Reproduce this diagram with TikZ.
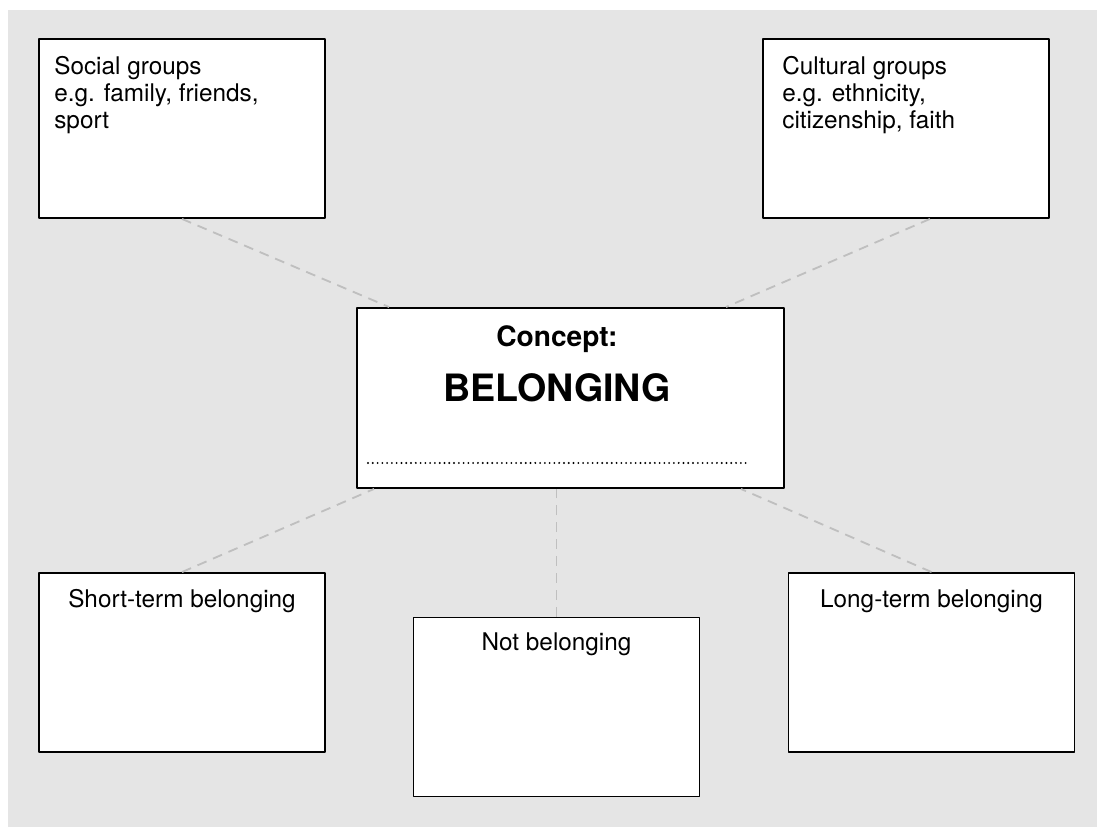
\documentclass[tikz,border=0pt]{standalone}
\usepackage{fontspec}
\setmainfont{TeX Gyre Heros}
\usepackage{tikz}
\usetikzlibrary{calc,positioning}
\tikzset{card/.style={draw,fill=white,line width=1.35pt,minimum width=7.15cm,minimum height=4.475cm,inner sep=0pt},
  cardtxt/.style={inner sep=0pt,align=left,font=\fontsize{17.3}{19.3}\selectfont},
  link/.style={draw=black!25,line width=1.3pt,dash pattern=on 7pt off 5pt}}

\begin{document}
\begin{tikzpicture}[line join=round]
\useasboundingbox (0,0) rectangle (27.425,20.675);
\fill[black!10] (0.2,0) rectangle (27.425,20.425);
% --- outer boxes
\node[card] (social) at (4.55,17.4625) {};
\node[card] (cultural) at (22.65,17.4625) {};
\node[card] (short) at (4.55,4.1125) {};
\node[card] (notb) at (13.9125,3.0) {};
\node[card] (long) at (23.2875,4.1125) {};
% --- centre box
\node[card,minimum width=10.675cm,minimum height=4.5cm] (belong) at (14.2625,10.725) {};
\node[cardtxt,below=0.47cm of belong.north,xshift=-0.34cm,font=\fontsize{20}{22}\selectfont\bfseries] (concept) {Concept:};
\node[cardtxt,below=0.5cm of concept,font=\fontsize{26.8}{29}\selectfont\bfseries] (title) {BELONGING};
\draw[line width=1.5pt,line cap=round,dash pattern=on 0pt off 3.4pt] (9.2,9.1) -- (18.65,9.1);
% --- labels
\node[cardtxt,below right=0.45cm and 0.4cm of social.north west] (socialtxt) {Social groups\\e.g. family, friends,\\sport};
\node[cardtxt,below right=0.45cm and 0.5cm of cultural.north west] (culturaltxt) {Cultural groups\\e.g. ethnicity,\\citizenship, faith};
\node[cardtxt,below=0.43cm of short.north] (shorttxt) {Short-term belonging};
\node[cardtxt,below=0.41cm of notb.north] (notbtxt) {Not belonging};
\node[cardtxt,below=0.43cm of long.north] (longtxt) {Long-term belonging};
% --- dashed links
\draw[link] (social.south) -- ([xshift=0.825cm]belong.north west);
\draw[link] ([xshift=0.6cm]cultural.south) -- ([xshift=-1.475cm]belong.north east);
\draw[link] (short.north) -- ([xshift=0.45cm]belong.south west);
\draw[link] (notb.north) -- (notb.north |- belong.south);
\draw[link] (long.north) -- ([xshift=-1.1cm]belong.south east);
\end{tikzpicture}
\end{document}
